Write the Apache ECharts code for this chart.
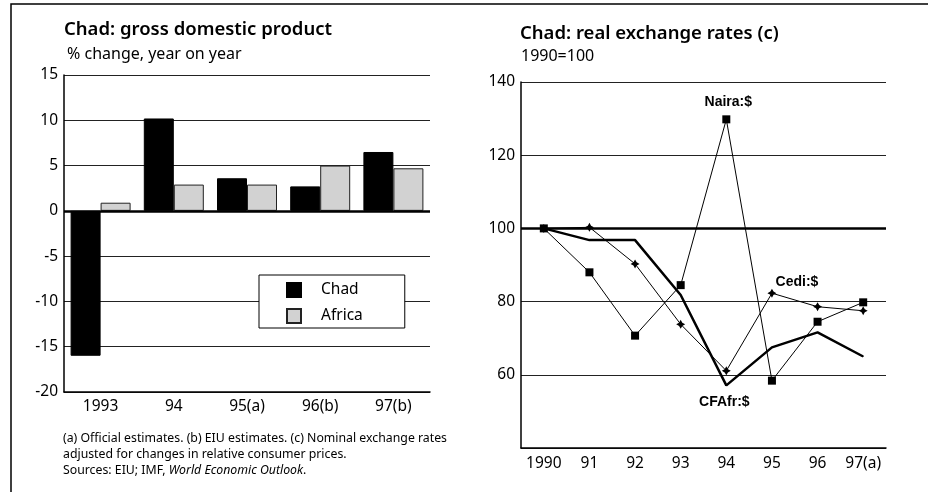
<!DOCTYPE html>
<html>

<head>
	<meta charset="UTF-8">
	<title>Chad</title>
	<style>
		html, body { margin: 0; padding: 0; background: #fff; }
		#chart1 { width: 928px; height: 492px; }
	</style>
	<script src="https://cdn.jsdelivr.net/npm/echarts@6/dist/echarts.min.js"></script>
</head>

<body>
	<div id="chart1"></div>
	<script>
		// left panel: GDP growth
		var gdpYears = ['1993', '94', '95(a)', '96(b)', '97(b)'];
		var chadGdp = [-16, 10.2, 3.6, 2.7, 6.5];
		var africaGdp = [0.9, 2.9, 2.9, 5.0, 4.7];

		// right panel: real exchange rates, 1990=100
		var rateYears = ['1990', '91', '92', '93', '94', '95', '96', '97(a)'];
		var naira = [100, 88, 70.7, 84.5, 129.8, 58.4, 74.5, 79.8];
		var cedi = [100, 100.3, 90.3, 73.8, 61.1, 82.3, 78.6, 77.5];
		var cfa = [100, 96.8, 96.8, 81.8, 57.1, 67.5, 71.6, 65];

		var font = 'Noto Sans';
		var starPath = 'path://M0,-5 L1.8,-1.8 L5,0 L1.8,1.8 L0,5 L-1.8,1.8 L-5,0 L-1.8,-1.8 Z';

		// put a name label on one point of a line
		function withLabel(arr, idx, text, offset) {
			return arr.map(function (v, i) {
				if (i !== idx) return v;
				return {
					value: v,
					label: {
						show: true,
						position: 'inside',
						offset: offset,
						formatter: text,
						fontFamily: 'Liberation Sans',
						fontWeight: 'bold',
						fontSize: 14,
						color: '#000'
					}
				};
			});
		}

		var myChart = echarts.init(document.getElementById('chart1'));
		myChart.setOption({
			animation: false,
			textStyle: { fontFamily: font },
			graphic: [
				{
					type: 'rect',
					shape: { x: 11, y: 4, width: 940, height: 520 },
					style: { fill: 'none', stroke: '#000', lineWidth: 1.5 },
					silent: true
				}
			],
			title: [
				{
					text: 'Chad: gross domestic product',
					left: 59, top: 15,
					textStyle: { fontSize: 18.5, fontWeight: 600, color: '#000', fontFamily: font }
				},
				{
					text: '% change, year on year',
					left: 62, top: 41,
					textStyle: { fontSize: 16, fontWeight: 'normal', color: '#000', fontFamily: font }
				},
				{
					text: 'Chad: real exchange rates (c)',
					left: 515, top: 19,
					textStyle: { fontSize: 18.5, fontWeight: 600, color: '#000', fontFamily: font }
				},
				{
					text: '1990=100',
					left: 516, top: 43,
					textStyle: { fontSize: 16, fontWeight: 'normal', color: '#000', fontFamily: font }
				},
				{
					text: '(a) Official estimates. (b) EIU estimates. (c) Nominal exchange rates\n' +
						'adjusted for changes in relative consumer prices.\n' +
						'Sources: EIU; IMF, {i|World Economic Outlook}.',
					left: 58, top: 425,
					textStyle: {
						fontSize: 12.3, fontWeight: 'normal', color: '#000', lineHeight: 16.3, fontFamily: font,
						rich: { i: { fontStyle: 'italic', fontSize: 12.3, fontFamily: font } }
					}
				}
			],
			legend: {
				data: ['Chad', 'Africa'],
				orient: 'vertical',
				left: 259, top: 275,
				padding: [7, 42, 4, 27],
				icon: 'rect',
				itemWidth: 14,
				itemHeight: 14,
				itemGap: 10,
				borderColor: '#000',
				borderWidth: 1,
				backgroundColor: '#fff',
				textStyle: { fontSize: 15.5, color: '#000', padding: [0, 0, 0, 15], fontFamily: font }
			},
			grid: [
				{ left: 64, right: 498, top: 75, bottom: 100 },
				{ left: 521, right: 42, top: 82, bottom: 44 }
			],
			xAxis: [
				{
					type: 'category', gridIndex: 0, data: gdpYears,
					axisLine: { onZero: false, lineStyle: { color: '#000', width: 1.5 } },
					axisTick: { show: false },
					axisLabel: { color: '#000', fontSize: 15.5, margin: 7, interval: 0 }
				},
				{
					type: 'category', gridIndex: 1, data: rateYears, boundaryGap: true,
					axisLine: { onZero: false, lineStyle: { color: '#000', width: 1.5 } },
					axisTick: { show: false },
					axisLabel: { color: '#000', fontSize: 15.5, margin: 8, interval: 0 }
				}
			],
			yAxis: [
				{
					type: 'value', gridIndex: 0, min: -20, max: 15, interval: 5,
					axisLine: { show: true, lineStyle: { color: '#000', width: 1.5 } },
					axisTick: { show: false },
					axisLabel: { color: '#000', fontSize: 15.5, margin: 6 },
					splitLine: { lineStyle: { color: '#222', width: 1 } }
				},
				{
					type: 'value', gridIndex: 1, min: 40, max: 140, interval: 20,
					axisLine: { show: true, lineStyle: { color: '#000', width: 1.5 } },
					axisTick: { show: false },
					axisLabel: {
						color: '#000', fontSize: 15.5, margin: 6,
						formatter: function (v) { return v === 40 ? '' : v; }
					},
					splitLine: { lineStyle: { color: '#222', width: 1 } }
				}
			],
			series: [
				{
					name: 'Chad',
					type: 'bar',
					xAxisIndex: 0, yAxisIndex: 0,
					data: chadGdp,
					barWidth: 30,
					barGap: '0%',
					itemStyle: { color: '#000', borderColor: '#000', borderWidth: 1 },
					markLine: {
						silent: true,
						symbol: 'none',
						label: { show: false },
						lineStyle: { color: '#000', width: 2.5, type: 'solid' },
						data: [{ yAxis: 0 }]
					}
				},
				{
					name: 'Africa',
					type: 'bar',
					xAxisIndex: 0, yAxisIndex: 0,
					data: africaGdp,
					barWidth: 30,
					barGap: '0%',
					itemStyle: { color: '#d2d2d2', borderColor: '#222', borderWidth: 1 }
				},
				{
					name: 'CFAfr:$',
					type: 'line',
					xAxisIndex: 1, yAxisIndex: 1,
					data: withLabel(cfa, 4, 'CFAfr:$', [-2, 17]),
					symbol: 'circle',
					symbolSize: 1,
					itemStyle: { color: '#000' },
					lineStyle: { color: '#000', width: 2.5 },
					markLine: {
						silent: true,
						symbol: 'none',
						label: { show: false },
						lineStyle: { color: '#000', width: 2.5, type: 'solid' },
						data: [{ yAxis: 100 }]
					},
					z: 3
				},
				{
					name: 'Cedi:$',
					type: 'line',
					xAxisIndex: 1, yAxisIndex: 1,
					data: withLabel(cedi, 5, 'Cedi:$', [25, -11]),
					symbol: starPath,
					symbolSize: 9,
					itemStyle: { color: '#000' },
					lineStyle: { color: '#000', width: 1 },
					z: 4
				},
				{
					name: 'Naira:$',
					type: 'line',
					xAxisIndex: 1, yAxisIndex: 1,
					data: withLabel(naira, 4, 'Naira:$', [2, -17]),
					symbol: 'rect',
					symbolSize: 8,
					itemStyle: { color: '#000' },
					lineStyle: { color: '#000', width: 1 },
					z: 5
				}
			]
		});
	</script>
</body>

</html>
